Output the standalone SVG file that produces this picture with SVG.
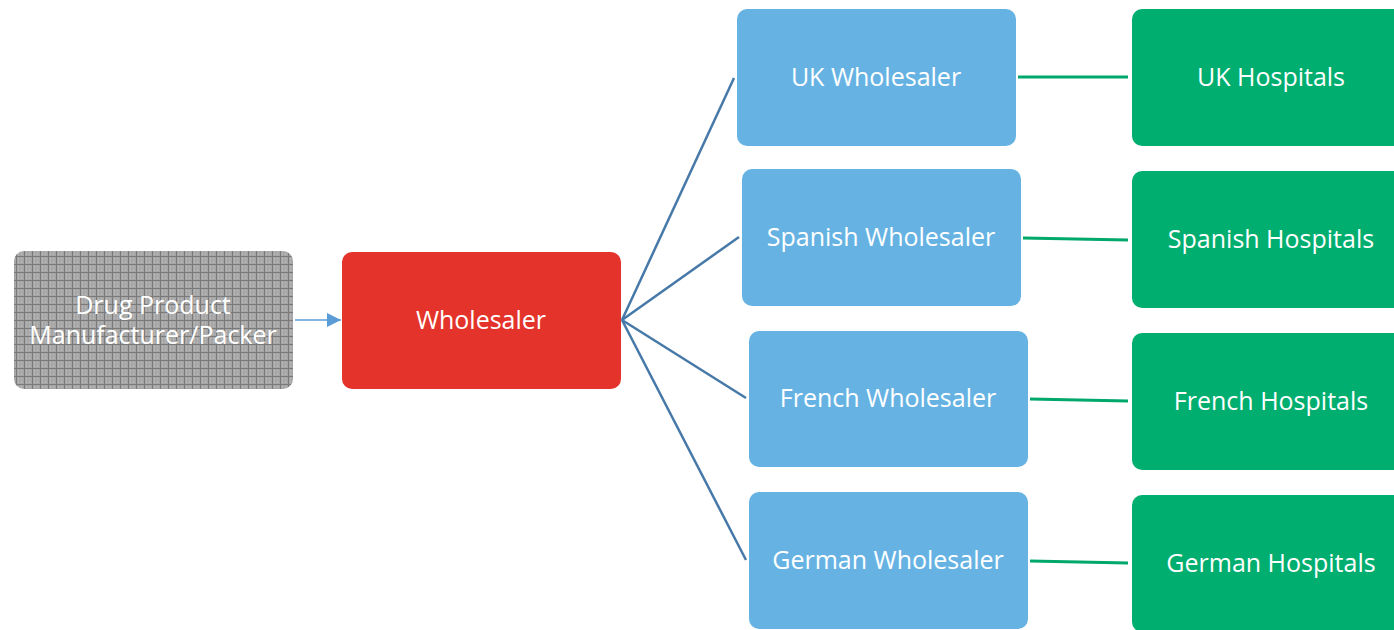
<svg xmlns="http://www.w3.org/2000/svg" width="1394" height="630" viewBox="0 0 1394 630">
<style>
.lbl{font-family:"Open Sans","DejaVu Sans",sans-serif;font-size:25px;fill:#ffffff;text-anchor:middle;dominant-baseline:central}
.blue{fill:#66b3e3}
.green{fill:#00ae70}
.fan{stroke:#4679a8;stroke-width:2.5;fill:none}
.gl{stroke:#00a86b;stroke-width:3;fill:none}
</style>
<defs>
<pattern id="grid" width="8" height="8" patternUnits="userSpaceOnUse">
<rect width="8" height="8" fill="#a6a6a6"/>
<path d="M0 0.5H8M0.5 0V8" stroke="#7a7a7a" stroke-width="1"/>
<path d="M2 3h1M5 3h1M2 6h1M5 6h1" stroke="#cccccc" stroke-width="1"/>
</pattern>
<marker id="arr" viewBox="0 0 10 10" refX="10" refY="5" markerWidth="14" markerHeight="14" markerUnits="userSpaceOnUse" orient="auto">
<path d="M0 0L10 5L0 10z" fill="#5b9bd5"/>
</marker>
</defs>
<g id="connectors">
<line x1="295" y1="320" x2="341" y2="320" stroke="#5b9bd5" stroke-width="1.5" marker-end="url(#arr)"/>
<line class="fan" x1="622" y1="320" x2="734" y2="78"/>
<line class="fan" x1="622" y1="320" x2="739" y2="237"/>
<line class="fan" x1="622" y1="320" x2="746" y2="398"/>
<line class="fan" x1="622" y1="320" x2="746" y2="560"/>
<line class="gl" x1="1018" y1="77" x2="1128" y2="77"/>
<line class="gl" x1="1023" y1="238" x2="1128" y2="240"/>
<line class="gl" x1="1030" y1="399" x2="1128" y2="401"/>
<line class="gl" x1="1030" y1="561" x2="1128" y2="563"/>
</g>
<g id="manufacturer">
<rect x="14" y="251" width="279" height="138" rx="10" fill="url(#grid)"/>
<text class="lbl"><tspan x="153" y="304">Drug Product</tspan><tspan x="153" y="334">Manufacturer/Packer</tspan></text>
</g>
<g id="wholesaler">
<rect x="342" y="252" width="279" height="137" rx="10" fill="#e4332a"/>
<text class="lbl" x="481" y="319">Wholesaler</text>
</g>
<g id="uk-wholesaler">
<rect class="blue" x="737" y="9" width="279" height="137" rx="10"/>
<text class="lbl" x="876" y="76">UK Wholesaler</text>
</g>
<g id="spanish-wholesaler">
<rect class="blue" x="742" y="169" width="279" height="137" rx="10"/>
<text class="lbl" x="881" y="236">Spanish Wholesaler</text>
</g>
<g id="french-wholesaler">
<rect class="blue" x="749" y="331" width="279" height="136" rx="10"/>
<text class="lbl" x="888" y="397">French Wholesaler</text>
</g>
<g id="german-wholesaler">
<rect class="blue" x="749" y="492" width="279" height="137" rx="10"/>
<text class="lbl" x="888" y="559">German Wholesaler</text>
</g>
<g id="uk-hospitals">
<rect class="green" x="1132" y="9" width="279" height="137" rx="10"/>
<text class="lbl" x="1271" y="76">UK Hospitals</text>
</g>
<g id="spanish-hospitals">
<rect class="green" x="1132" y="171" width="279" height="137" rx="10"/>
<text class="lbl" x="1271" y="238">Spanish Hospitals</text>
</g>
<g id="french-hospitals">
<rect class="green" x="1132" y="333" width="279" height="137" rx="10"/>
<text class="lbl" x="1271" y="400">French Hospitals</text>
</g>
<g id="german-hospitals">
<rect class="green" x="1132" y="495" width="279" height="137" rx="10"/>
<text class="lbl" x="1271" y="562">German Hospitals</text>
</g>
</svg>
